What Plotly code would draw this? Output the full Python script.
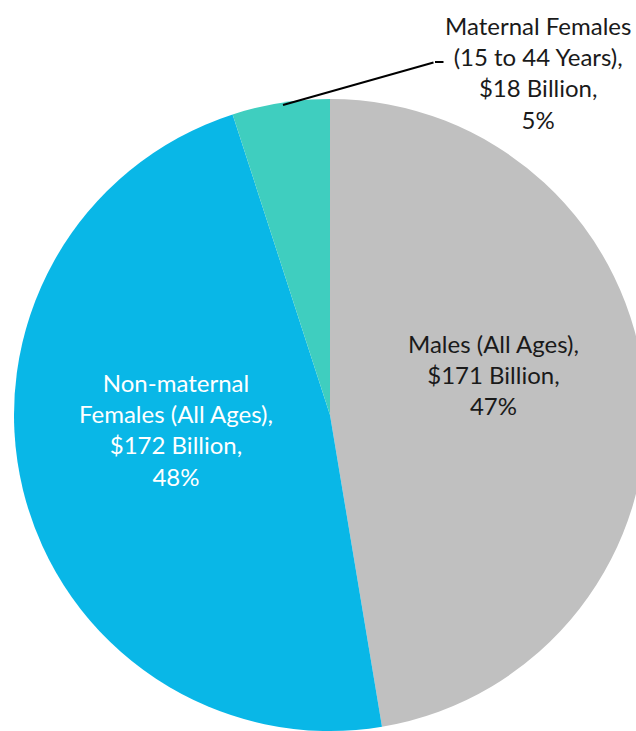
import plotly.graph_objects as go

# Spending by group ($ billion)
groups = ["Males (All Ages)", "Non-maternal Females (All Ages)", "Maternal Females (15 to 44 Years)"]
spending = [171, 172, 18]
shares = ["47%", "48%", "5%"]
colors = ["#C0C0C0", "#09B7E7", "#3FCEBF"]

label_text = [
    f"Males (All Ages),<br>${spending[0]} Billion,<br>{shares[0]}",
    f"Non-maternal<br>Females (All Ages),<br>${spending[1]} Billion,<br>{shares[1]}",
    f"Maternal Females<br>(15 to 44 Years),<br>${spending[2]} Billion,<br>{shares[2]}",
]

# figure is a bit bigger than the window so the pie runs off the right/bottom edges
W, H = 660, 746


def px(x, y):
    return x / W, 1 - y / H


fig = go.Figure(go.Pie(
    labels=groups,
    values=spending,
    marker=dict(colors=colors, line=dict(width=0)),
    sort=False,
    direction="clockwise",
    rotation=0,
    textinfo="none",
    hoverinfo="label+value+percent",
    domain=dict(x=[14 / W, 646 / W], y=[1 - 731 / H, 1 - 99 / H]),
    showlegend=False,
))

font = dict(family="Lato, Open Sans, sans-serif", size=24)

x, y = px(493, 374)
fig.add_annotation(x=x, y=y, xref="paper", yref="paper", text=label_text[0],
                   xanchor="center", yanchor="middle",
                   showarrow=False, font=dict(font, color="#1a1a1a"))
x, y = px(176, 429)
fig.add_annotation(x=x, y=y, xref="paper", yref="paper", text=label_text[1],
                   xanchor="center", yanchor="middle",
                   showarrow=False, font=dict(font, color="white"))
x, y = px(538, 73)
fig.add_annotation(x=x, y=y, xref="paper", yref="paper", text=label_text[2],
                   xanchor="center", yanchor="middle",
                   showarrow=False, font=dict(font, color="#1a1a1a"))

# leader line for the small slice
x, y = px(283, 105)
fig.add_annotation(x=x, y=y, xref="paper", yref="paper", ax=435 - 283, ay=62 - 105,
                   text="", showarrow=True, arrowhead=0, arrowwidth=2, arrowcolor="black")
x, y = px(435, 62)
fig.add_annotation(x=x, y=y, xref="paper", yref="paper", ax=10, ay=0,
                   text="", showarrow=True, arrowhead=0, arrowwidth=2, arrowcolor="black")

fig.update_layout(
    width=W,
    height=H,
    margin=dict(l=0, r=0, t=0, b=0),
    paper_bgcolor="white",
    plot_bgcolor="white",
)

fig.write_html(
    "out.html",
    config={"displayModeBar": False},
    post_script="document.body.style.margin='0';document.body.style.overflow='hidden';",
)
